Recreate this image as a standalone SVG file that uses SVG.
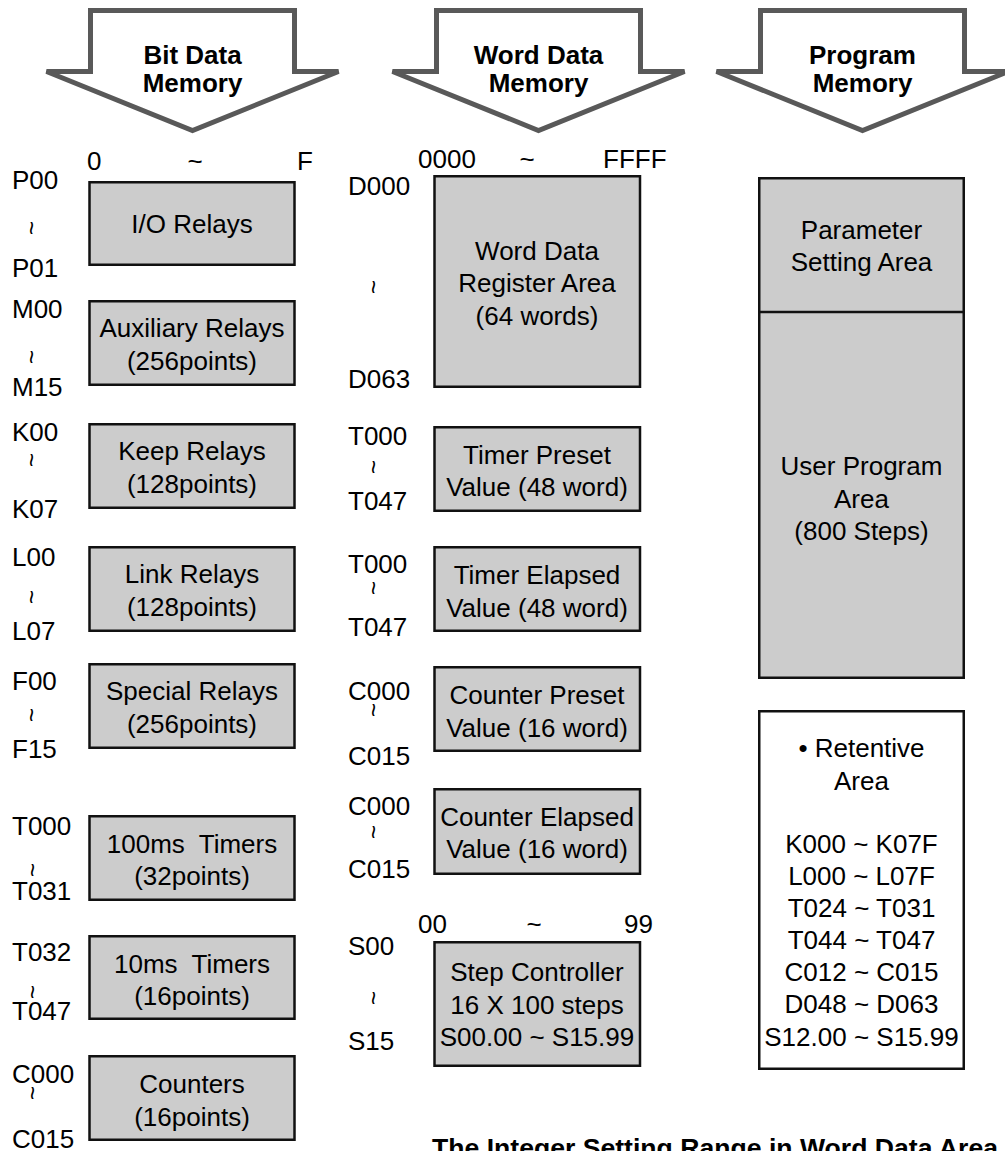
<svg xmlns="http://www.w3.org/2000/svg" width="1005" height="1151" viewBox="0 0 1005 1151">
<style>
.arrow{fill:#ffffff;stroke:#595959;stroke-width:5;stroke-linejoin:miter}
.box{fill:#cccccc;stroke:#111111;stroke-width:2.5}
.wbox{fill:#ffffff;stroke:#111111;stroke-width:2.5}
.div{stroke:#111111;stroke-width:2.5;fill:none}
text{font-family:"Liberation Sans",Arial,Helvetica,sans-serif;font-size:26px;fill:#000000}
.c{text-anchor:middle}
.b{font-weight:bold}
.sq{font-size:24px;text-anchor:middle}
</style>
<defs>
<polygon id="arrowShape" points="-102,0 102,0 102,61 146,61 0,120 -146,61 -102,61"/>
</defs>

<g id="bit-data-memory">
<use href="#arrowShape" class="arrow" transform="translate(192.5,10.5)"/>
<text class="c b" x="192.5" y="64">Bit Data</text>
<text class="c b" x="192.5" y="92">Memory</text>
</g>
<g id="word-data-memory">
<use href="#arrowShape" class="arrow" transform="translate(538.5,10.5)"/>
<text class="c b" x="538.5" y="64">Word Data</text>
<text class="c b" x="538.5" y="92">Memory</text>
</g>
<g id="program-memory">
<use href="#arrowShape" class="arrow" transform="translate(862.5,10.5)"/>
<text class="c b" x="862.5" y="64">Program</text>
<text class="c b" x="862.5" y="92">Memory</text>
</g>

<g id="bit-axis">
<text x="87" y="170">0</text>
<text class="c" x="195" y="170">~</text>
<text x="297" y="170">F</text>
</g>

<g id="io-relays">
<rect class="box" x="89.5" y="182.25" width="205" height="82.5"/>
<text class="c" x="192" y="233">I/O Relays</text>
<text x="12" y="189">P00</text>
<text class="sq" transform="translate(31,228) rotate(90)" y="8">~</text>
<text x="12" y="277">P01</text>
</g>

<g id="auxiliary-relays">
<rect class="box" x="89.5" y="301.25" width="205" height="83.5"/>
<text class="c" x="192" y="337">Auxiliary Relays</text>
<text class="c" x="192" y="370">(256points)</text>
<text x="12" y="318">M00</text>
<text class="sq" transform="translate(31,357) rotate(90)" y="8">~</text>
<text x="12" y="396">M15</text>
</g>

<g id="keep-relays">
<rect class="box" x="89.5" y="424.25" width="205" height="83.5"/>
<text class="c" x="192" y="460">Keep Relays</text>
<text class="c" x="192" y="493">(128points)</text>
<text x="12" y="441">K00</text>
<text class="sq" transform="translate(31,460) rotate(90)" y="8">~</text>
<text x="12" y="518">K07</text>
</g>

<g id="link-relays">
<rect class="box" x="89.5" y="547.25" width="205" height="83.5"/>
<text class="c" x="192" y="583">Link Relays</text>
<text class="c" x="192" y="616">(128points)</text>
<text x="12" y="566">L00</text>
<text class="sq" transform="translate(31,597) rotate(90)" y="8">~</text>
<text x="12" y="640">L07</text>
</g>

<g id="special-relays">
<rect class="box" x="89.5" y="664.25" width="205" height="83.5"/>
<text class="c" x="192" y="700">Special Relays</text>
<text class="c" x="192" y="733">(256points)</text>
<text x="12" y="690">F00</text>
<text class="sq" transform="translate(31,715) rotate(90)" y="8">~</text>
<text x="12" y="758">F15</text>
</g>

<g id="timers-100ms">
<rect class="box" x="89.5" y="816.25" width="205" height="83.5"/>
<text class="c" x="192" y="853" xml:space="preserve">100ms  Timers</text>
<text class="c" x="192" y="885">(32points)</text>
<text x="12" y="835">T000</text>
<text class="sq" transform="translate(32,870) rotate(90)" y="8">~</text>
<text x="12" y="900">T031</text>
</g>

<g id="timers-10ms">
<rect class="box" x="89.5" y="936.25" width="205" height="82.5"/>
<text class="c" x="192" y="973" xml:space="preserve">10ms  Timers</text>
<text class="c" x="192" y="1005">(16points)</text>
<text x="12" y="961">T032</text>
<text class="sq" transform="translate(32,992) rotate(90)" y="8">~</text>
<text x="12" y="1020">T047</text>
</g>

<g id="counters">
<rect class="box" x="89.5" y="1056.25" width="205" height="83.5"/>
<text class="c" x="192" y="1093">Counters</text>
<text class="c" x="192" y="1126">(16points)</text>
<text x="12" y="1083">C000</text>
<text class="sq" transform="translate(32,1093) rotate(90)" y="8">~</text>
<text x="12" y="1148">C015</text>
</g>

<g id="word-axis">
<text x="418" y="168">0000</text>
<text class="c" x="527" y="168">~</text>
<text x="603" y="168">FFFF</text>
</g>

<g id="word-data-register">
<rect class="box" x="434.5" y="176.25" width="205.5" height="210.5"/>
<text class="c" x="537" y="260">Word Data</text>
<text class="c" x="537" y="292">Register Area</text>
<text class="c" x="537" y="325">(64 words)</text>
<text x="348" y="195">D000</text>
<text class="sq" transform="translate(373,287) rotate(90)" y="8">~</text>
<text x="348" y="388">D063</text>
</g>

<g id="timer-preset">
<rect class="box" x="434.5" y="427.25" width="205.5" height="83.5"/>
<text class="c" x="537" y="464">Timer Preset</text>
<text class="c" x="537" y="496">Value (48 word)</text>
<text x="348" y="445">T000</text>
<text class="sq" transform="translate(373,467) rotate(90)" y="8">~</text>
<text x="348" y="510">T047</text>
</g>

<g id="timer-elapsed">
<rect class="box" x="434.5" y="547.25" width="205.5" height="83.5"/>
<text class="c" x="537" y="584">Timer Elapsed</text>
<text class="c" x="537" y="617">Value (48 word)</text>
<text x="348" y="573">T000</text>
<text class="sq" transform="translate(373,588) rotate(90)" y="8">~</text>
<text x="348" y="636">T047</text>
</g>

<g id="counter-preset">
<rect class="box" x="434.5" y="667.25" width="205.5" height="83.5"/>
<text class="c" x="537" y="704">Counter Preset</text>
<text class="c" x="537" y="737">Value (16 word)</text>
<text x="348" y="700">C000</text>
<text class="sq" transform="translate(373,710) rotate(90)" y="8">~</text>
<text x="348" y="765">C015</text>
</g>

<g id="counter-elapsed">
<rect class="box" x="434.5" y="789.25" width="205.5" height="84.5"/>
<text class="c" x="537" y="826">Counter Elapsed</text>
<text class="c" x="537" y="858">Value (16 word)</text>
<text x="348" y="815">C000</text>
<text class="sq" transform="translate(373,832) rotate(90)" y="8">~</text>
<text x="348" y="878">C015</text>
</g>

<g id="step-axis">
<text x="418" y="933">00</text>
<text class="c" x="534" y="933">~</text>
<text x="624" y="933">99</text>
</g>

<g id="step-controller">
<rect class="box" x="434.5" y="942.25" width="205.5" height="123.5"/>
<text class="c" x="537" y="981">Step Controller</text>
<text class="c" x="537" y="1013.5">16 X 100 steps</text>
<text class="c" x="537" y="1046">S00.00 ~ S15.99</text>
<text x="348" y="955">S00</text>
<text class="sq" transform="translate(373,998) rotate(90)" y="8">~</text>
<text x="348" y="1050">S15</text>
</g>

<g id="program-area">
<rect class="box" x="759.25" y="178.25" width="204.5" height="499.5"/>
<line class="div" x1="759.25" y1="312" x2="963.75" y2="312"/>
<text class="c" x="861.5" y="239">Parameter</text>
<text class="c" x="861.5" y="271">Setting Area</text>
<text class="c" x="861.5" y="475">User Program</text>
<text class="c" x="861.5" y="507.5">Area</text>
<text class="c" x="861.5" y="540">(800 Steps)</text>
</g>

<g id="retentive-area">
<rect class="wbox" x="759.25" y="711.25" width="204.5" height="357.5"/>
<text class="c" x="861.5" y="757">• Retentive</text>
<text class="c" x="861.5" y="790">Area</text>
<text class="c" x="861.5" y="853">K000 ~ K07F</text>
<text class="c" x="861.5" y="885">L000 ~ L07F</text>
<text class="c" x="861.5" y="917">T024 ~ T031</text>
<text class="c" x="861.5" y="949">T044 ~ T047</text>
<text class="c" x="861.5" y="981">C012 ~ C015</text>
<text class="c" x="861.5" y="1013">D048 ~ D063</text>
<text class="c" x="861.5" y="1046">S12.00 ~ S15.99</text>
</g>

<g id="connectors"></g>

<g id="caption">
<text class="b" x="432" y="1157" textLength="566" lengthAdjust="spacingAndGlyphs">The Integer Setting Range in Word Data Area</text>
</g>
</svg>
